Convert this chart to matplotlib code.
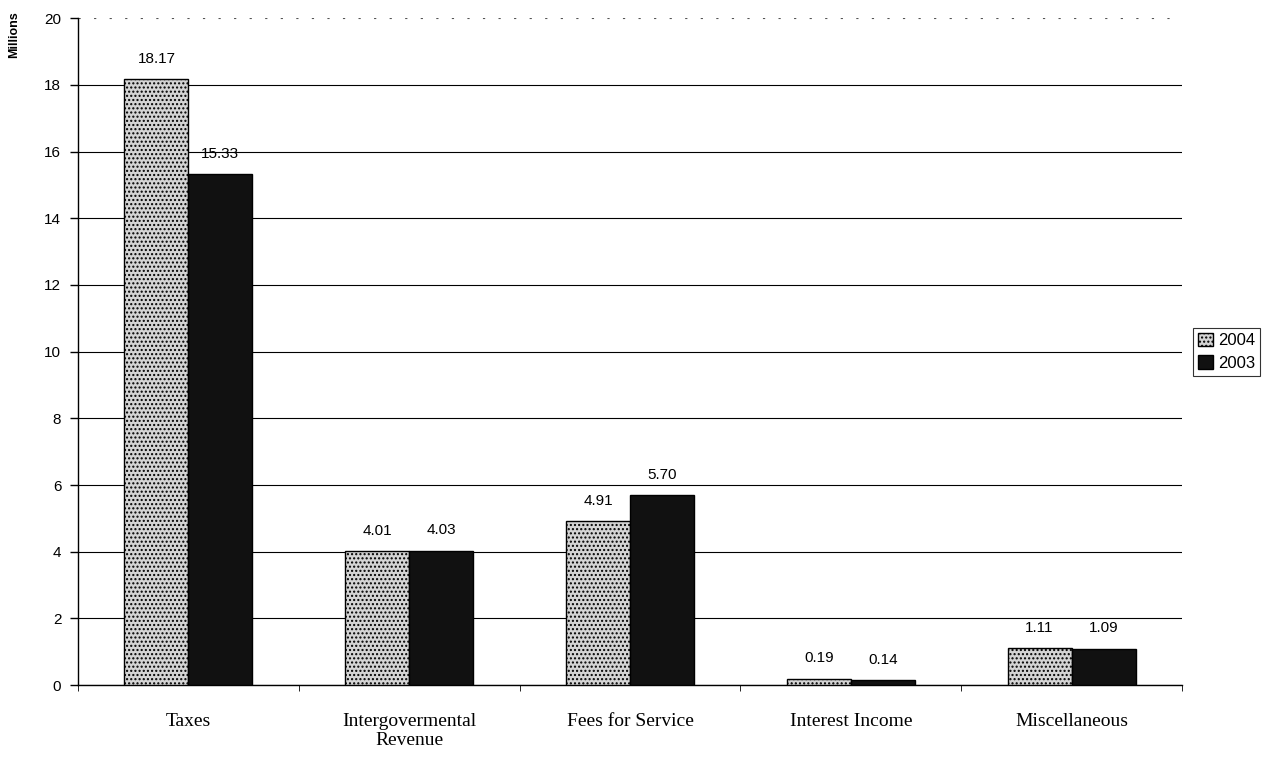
import numpy as np
import matplotlib.pyplot as plt

categories = ["Taxes", "Intergovermental\nRevenue", "Fees for Service", "Interest Income", "Miscellaneous"]
vals_2004 = [18.17, 4.01, 4.91, 0.19, 1.11]
vals_2003 = [15.33, 4.03, 5.70, 0.14, 1.09]
labels_2004 = ["18.17", "4.01", "4.91", "0.19", "1.11"]
labels_2003 = ["15.33", "4.03", "5.70", "0.14", "1.09"]

plt.rcParams["hatch.color"] = "#9a9a9a"
fig = plt.figure(figsize=(12.83, 7.57), dpi=100)
ax = fig.add_axes([0.0608, 0.095, 0.8605, 0.881])

x = np.arange(len(categories))
w = 0.29
ax.bar(x - w/2, vals_2004, w, color="#d4d4d4", edgecolor="black", linewidth=1.0,
       hatch="....", label="2004", zorder=3)
ax.bar(x + w/2, vals_2003, w, color="#111111", edgecolor="black", linewidth=1.0,
       label="2003", zorder=3)

for i in range(len(categories)):
    ax.text(x[i] - w/2, vals_2004[i] + 0.4, labels_2004[i], ha="center", va="bottom",
            fontsize=11, family="Liberation Sans")
    ax.text(x[i] + w/2, vals_2003[i] + 0.4, labels_2003[i], ha="center", va="bottom",
            fontsize=11, family="Liberation Sans")

ax.set_xlim(-0.5, len(categories) - 0.5)
ax.set_ylim(0, 20)
ax.set_yticks(np.arange(0, 21, 2))
ax.set_yticklabels([str(v) for v in range(0, 21, 2)], family="Liberation Sans", fontsize=11)
ax.set_xticks(x)
ax.set_xticklabels(categories, family="Liberation Serif", fontsize=14)
ax.tick_params(axis="x", length=0, pad=20)
ax.set_xticks(np.arange(-0.5, len(categories), 1), minor=True)
ax.tick_params(axis="x", which="minor", length=4, direction="out")
ax.tick_params(axis="y", length=6, direction="out", width=1, pad=6)
ax.yaxis.grid(True, color="black", linewidth=0.8, zorder=0)
ax.set_axisbelow(True)
gl = ax.get_ygridlines()
gl[-1].set_linestyle((0, (2, 12)))
gl[-1].set_color("#555555")

for s in ["top", "right"]:
    ax.spines[s].set_visible(False)
ax.spines["left"].set_linewidth(1.0)
ax.spines["bottom"].set_linewidth(1.0)

ax.set_ylabel("Millions", family="Liberation Sans", fontweight="bold", fontsize=9)
ax.yaxis.set_label_coords(-0.052, 0.975)

leg = ax.legend(loc="center left", bbox_to_anchor=(1.01, 0.5), frameon=True, fancybox=False,
                edgecolor="black", prop={"family": "Liberation Sans", "size": 12},
                handlelength=0.9, handleheight=0.9, handletextpad=0.3, borderpad=0.3,
                labelspacing=0.4, borderaxespad=0)
leg.get_frame().set_linewidth(0.8)

fig.savefig("out.png", dpi=100)
